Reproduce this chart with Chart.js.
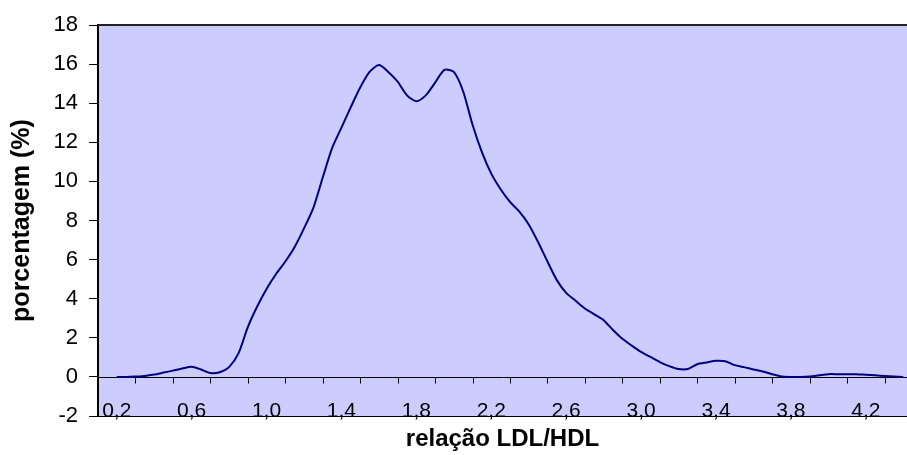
<!DOCTYPE html>
<html>
<head>
<meta charset="utf-8">
<script src="https://cdn.jsdelivr.net/npm/chart.js@4.4.0/dist/chart.umd.min.js"></script>
<style>
  body { margin: 0; background: #fff; }
  #wrap { width: 907px; height: 455px; }
</style>
</head>
<body>
<div id="wrap"><canvas id="ldlChart"></canvas></div>
<script>
// relação LDL/HDL (categorias)
var ratios = [
  0.20, 0.25, 0.30, 0.35, 0.40, 0.45, 0.50, 0.55, 0.60, 0.65,
  0.70, 0.75, 0.80, 0.85, 0.90, 0.95, 1.00, 1.05, 1.10, 1.15,
  1.20, 1.25, 1.30, 1.35, 1.40, 1.45, 1.50, 1.55, 1.60, 1.65,
  1.70, 1.75, 1.80, 1.85, 1.90, 1.95, 2.00, 2.05, 2.10, 2.15,
  2.20, 2.25, 2.30, 2.35, 2.40, 2.45, 2.50, 2.55, 2.60, 2.65,
  2.70, 2.75, 2.80, 2.85, 2.90, 2.95, 3.00, 3.05, 3.10, 3.15,
  3.20, 3.25, 3.30, 3.35, 3.40, 3.45, 3.50, 3.55, 3.60, 3.65,
  3.70, 3.75, 3.80, 3.85, 3.90, 3.95, 4.00, 4.05, 4.10, 4.15,
  4.20, 4.25, 4.30, 4.35, 4.40
];
// porcentagem (%)
var percents = [
  0, 0, 0.02, 0.05, 0.12, 0.22, 0.32, 0.43, 0.52, 0.38,
  0.2, 0.24, 0.5, 1.2, 2.55, 3.6, 4.5, 5.25, 5.9, 6.65,
  7.6, 8.65, 10.2, 11.7, 12.75, 13.8, 14.8, 15.6, 15.95, 15.6,
  15.1, 14.4, 14.1, 14.4, 15.05, 15.7, 15.6, 14.6, 12.9, 11.5,
  10.4, 9.6, 8.95, 8.45, 7.8, 6.9, 5.9, 4.95, 4.3, 3.9,
  3.5, 3.2, 2.9, 2.4, 1.95, 1.6, 1.28, 1.02, 0.76, 0.55,
  0.4, 0.4, 0.65, 0.74, 0.82, 0.8, 0.6, 0.5, 0.38, 0.28,
  0.14, 0.02, 0, 0, 0.02, 0.08, 0.14, 0.14, 0.14, 0.14,
  0.11, 0.08, 0.05, 0.02, 0
];
var xLabelTicks = [0.2, 0.6, 1.0, 1.4, 1.8, 2.2, 2.6, 3.0, 3.4, 3.8, 4.2];
var xMarkTicks = [0.3, 0.5, 0.7, 0.9, 1.1, 1.3, 1.5, 1.7, 1.9, 2.1, 2.3, 2.5, 2.7, 2.9, 3.1, 3.3, 3.5, 3.7, 3.9, 4.1, 4.3];

var font = "'Liberation Sans', Arial, sans-serif";

// fundo, borda superior e eixo no zero com marcas
var plotDecor = {
  id: 'plotDecor',
  beforeDraw: function(chart) {
    var a = chart.chartArea, ctx = chart.ctx;
    ctx.save();
    ctx.fillStyle = '#ccccff';
    ctx.fillRect(a.left, a.top, a.right - a.left, a.bottom - a.top);
    ctx.restore();
  },
  beforeDatasetsDraw: function(chart) {
    var a = chart.chartArea, ctx = chart.ctx;
    var xs = chart.scales.x, ys = chart.scales.y;
    var y0 = Math.round(ys.getPixelForValue(0)) + 0.5;
    ctx.save();
    ctx.strokeStyle = '#000';
    ctx.lineWidth = 1;
    ctx.beginPath();
    ctx.moveTo(a.left, y0);
    ctx.lineTo(a.right, y0);
    xMarkTicks.forEach(function(v) {
      var px = Math.round(xs.getPixelForValue(v)) + 0.5;
      ctx.moveTo(px, y0);
      ctx.lineTo(px, y0 + 6);
    });
    ctx.stroke();
    ctx.lineWidth = 2;
    ctx.strokeStyle = '#222';
    ctx.beginPath();
    ctx.moveTo(a.left, a.top);
    ctx.lineTo(a.right, a.top);
    ctx.stroke();
    ctx.restore();
  }
};

var ctx = document.getElementById('ldlChart').getContext('2d');
var ldlChart = new Chart(ctx, {
  type: 'line',
  data: {
    datasets: [{
      label: 'porcentagem',
      data: ratios.map(function(r, i) { return { x: r, y: percents[i] }; }),
      borderColor: '#000080',
      borderWidth: 2,
      pointRadius: 0,
      tension: 0.25,
      fill: false
    }]
  },
  options: {
    responsive: true,
    maintainAspectRatio: false,
    animation: false,
    layout: { padding: { top: 25, right: 0, left: 0, bottom: 0 } },
    plugins: {
      legend: { display: false },
      tooltip: { enabled: false }
    },
    scales: {
      x: {
        type: 'linear',
        min: 0.1,
        max: 4.42,
        afterBuildTicks: function(scale) {
          scale.ticks = xLabelTicks.map(function(v) { return { value: v }; });
        },
        afterFit: function(scale) { scale.height = 39; },
        grid: { drawOnChartArea: false, drawTicks: false },
        border: { display: true, color: '#000', width: 1 },
        ticks: {
          autoSkip: false,
          maxRotation: 0,
          mirror: true,
          padding: -8,
          color: '#000',
          font: { family: font, size: 21 },
          callback: function(v) { return Number(v).toFixed(1).replace('.', ','); }
        },
        title: {
          display: true,
          text: 'relação LDL/HDL',
          color: '#000',
          font: { family: font, size: 24, weight: 'bold' },
          padding: { top: 0, bottom: 1 }
        }
      },
      y: {
        min: -2,
        max: 18,
        afterFit: function(scale) { scale.width = 98; },
        grid: { drawOnChartArea: false, drawTicks: true, tickLength: 9, color: '#000' },
        border: { display: true, color: '#000', width: 2 },
        ticks: {
          stepSize: 2,
          padding: 11,
          color: '#000',
          font: { family: font, size: 22 }
        },
        title: {
          display: true,
          text: 'porcentagem (%)',
          color: '#000',
          font: { family: font, size: 25, weight: 'bold' },
          padding: { top: 7, bottom: 0 }
        }
      }
    }
  },
  plugins: [plotDecor]
});
</script>
</body>
</html>
